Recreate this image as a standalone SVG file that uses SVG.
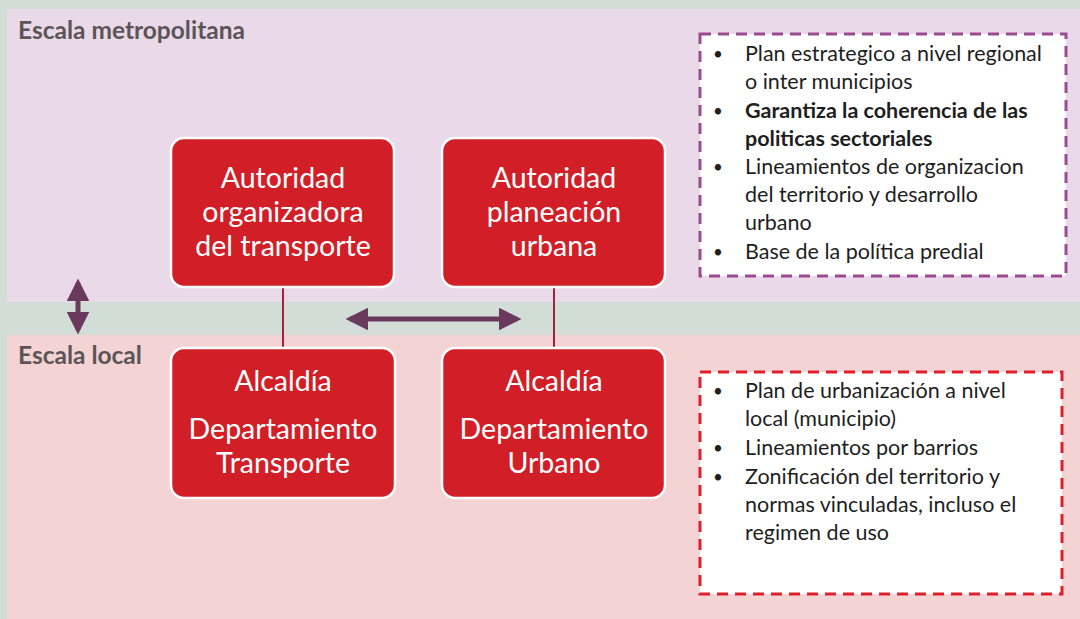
<svg xmlns="http://www.w3.org/2000/svg" width="1080" height="619" viewBox="0 0 1080 619">
<defs>
<style>
.band-label{font-family:Lato,"Open Sans",sans-serif;font-weight:bold;font-size:24.5px;fill:#5b5558}
.node rect{fill:#d21f27;stroke:#ffffff;stroke-width:2.5}
.node text{font-family:Lato,"Open Sans",sans-serif;font-size:28.5px;fill:#ffffff;text-anchor:middle}
.note text{font-family:Lato,"Open Sans",sans-serif;font-size:21.5px;fill:#1e1e1e}
.note .b{font-weight:bold}
.note .bul{font-size:17px}
.link{stroke:#a5203a;stroke-width:2;fill:none}
.arrow{stroke:#6a3a5e;stroke-width:5;fill:none}
</style>
<marker id="ah" viewBox="0 0 10 10" refX="8" refY="5" markerWidth="4.5" markerHeight="4.5" orient="auto-start-reverse" markerUnits="strokeWidth">
<path d="M0,0 L10,5 L0,10 z" fill="#6a3a5e"/>
</marker>
</defs>
<rect x="0" y="0" width="1080" height="619" fill="#d3ddd7"/>
<rect x="7" y="9" width="1073" height="293" fill="#ead9e8"/>
<rect x="7" y="335" width="1073" height="284" fill="#f4d3d5"/>
<text class="band-label" x="18" y="39">Escala metropolitana</text>
<text class="band-label" x="18" y="364">Escala local</text>
<g id="connectors">
<line class="link" x1="283" y1="287" x2="283" y2="348"/>
<line class="link" x1="554" y1="287" x2="554" y2="348"/>
<line class="arrow" x1="350" y1="319" x2="517" y2="319" marker-start="url(#ah)" marker-end="url(#ah)"/>
<line class="arrow" x1="78" y1="283" x2="78" y2="330" marker-start="url(#ah)" marker-end="url(#ah)"/>
</g>
<g id="node-autoridad-transporte" class="node">
<rect x="171" y="138" width="223" height="149" rx="13"/>
<text x="283" y="188">Autoridad</text>
<text x="283" y="222">organizadora</text>
<text x="283" y="256">del transporte</text>
</g>
<g id="node-autoridad-urbana" class="node">
<rect x="442" y="138" width="223" height="149" rx="13"/>
<text x="554" y="188">Autoridad</text>
<text x="554" y="222">planeación</text>
<text x="554" y="256">urbana</text>
</g>
<g id="node-alcaldia-transporte" class="node">
<rect x="171" y="348" width="224" height="150" rx="13"/>
<text x="283" y="391">Alcaldía</text>
<text x="283" y="439">Departamiento</text>
<text x="283" y="473">Transporte</text>
</g>
<g id="node-alcaldia-urbano" class="node">
<rect x="442" y="348" width="223" height="150" rx="13"/>
<text x="554" y="391">Alcaldía</text>
<text x="554" y="439">Departamiento</text>
<text x="554" y="473">Urbano</text>
</g>
<g id="note-metropolitana" class="note">
<rect x="700" y="34" width="366" height="242" fill="#ffffff" stroke="#9a4c91" stroke-width="3" stroke-dasharray="11 7"/>
<text class="bul" x="713" y="60">•</text><text x="745" y="61">Plan estrategico a nivel regional</text>
<text x="745" y="89">o inter municipios</text>
<text class="bul" x="713" y="117">•</text><text class="b" x="745" y="118">Garantiza la coherencia de las</text>
<text class="b" x="745" y="146">politicas sectoriales</text>
<text class="bul" x="713" y="173">•</text><text x="745" y="174">Lineamientos de organizacion</text>
<text x="745" y="202">del territorio y desarrollo</text>
<text x="745" y="230">urbano</text>
<text class="bul" x="713" y="258">•</text><text x="745" y="259">Base de la política predial</text>
</g>
<g id="note-local" class="note">
<rect x="700" y="372" width="362" height="222" fill="#ffffff" stroke="#e01f2a" stroke-width="3" stroke-dasharray="11 7"/>
<text class="bul" x="713" y="397">•</text><text x="745" y="398">Plan de urbanización a nivel</text>
<text x="745" y="426">local (municipio)</text>
<text class="bul" x="713" y="454">•</text><text x="745" y="455">Lineamientos por barrios</text>
<text class="bul" x="713" y="483">•</text><text x="745" y="484">Zonificación del territorio y</text>
<text x="745" y="512">normas vinculadas, incluso el</text>
<text x="745" y="540">regimen de uso</text>
</g>
</svg>
